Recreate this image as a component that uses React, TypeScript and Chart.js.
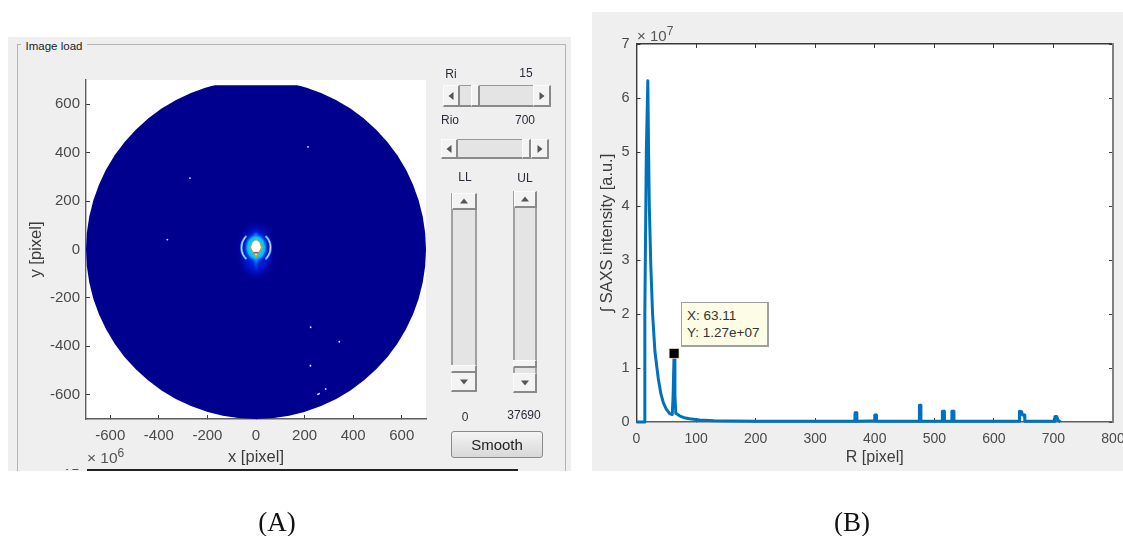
import React, { useEffect, useRef } from "react";
import { Chart, registerables } from "chart.js";

Chart.register(...registerables);

// ---- Panel A data ----
const imageTicksX = [-600, -400, -200, 0, 200, 400, 600];
const imageTicksY = [-600, -400, -200, 0, 200, 400, 600];
const discRadius = 700;
const discTopCut = 678;
const speckX = [214, -272, -365, 225, 343, 224, 287, 260, 255];
const speckY = [424, 295, 41, -321, -381, -480, -576, -595, -598];
const ringRadius = 60;
const ringCentreY = 8;
const diamondX = [0, 25, 0, -25];
const diamondY = [43, 10, -31, 10];

// ---- Panel B data ----
const profileTicksX = [0, 100, 200, 300, 400, 500, 600, 700, 800];
const profileTicksY = [0, 1, 2, 3, 4, 5, 6, 7];
const saxsR = [0, 13, 14, 16.5, 19, 20.3, 21.5, 24, 27, 31, 36.6, 41, 45, 50, 56, 60, 61.5, 63.11, 64.5, 66, 73, 80, 89, 106, 130, 160, 200, 250, 300, 366.5, 367, 369.5, 370, 395, 399.5, 400, 402.5, 403, 474.5, 475, 477, 477.5, 513, 513.5, 516.5, 517, 529, 529.5, 532.5, 533, 642.5, 643, 646.5, 648, 651.5, 652, 701, 702.5, 705.5, 708, 712];
const saxsI = [0, 0, 2, 5, 6.32, 5, 4, 2.9, 2.0, 1.3, 0.8, 0.52, 0.36, 0.24, 0.15, 0.14, 0.5, 1.27, 0.5, 0.16, 0.11, 0.08, 0.06, 0.035, 0.025, 0.02, 0.015, 0.012, 0.012, 0.012, 0.17, 0.17, 0.012, 0.02, 0.02, 0.13, 0.13, 0.012, 0.012, 0.31, 0.31, 0.012, 0.012, 0.2, 0.2, 0.012, 0.012, 0.2, 0.2, 0.012, 0.012, 0.2, 0.19, 0.13, 0.13, 0.012, 0.012, 0.1, 0.1, 0.03, 0];
const cursorR = [63.11];
const cursorI = [1.27];
const cursorTextX = "X: 63.11";
const cursorTextY = "Y: 1.27e+07";

const SANS = '"Liberation Sans", Arial, sans-serif';
const TICK = "#4a4a4a";
const AXIS = "#5f5f5f";

const imagePlugin = {
  id: "imagePlugin",
  beforeDraw(chart: any) {
    const { ctx, chartArea: a } = chart;
    ctx.save();
    ctx.fillStyle = "#ffffff";
    ctx.fillRect(a.left, a.top, a.width, a.height);
    ctx.restore();
  },
  beforeDatasetsDraw(chart: any) {
    const { ctx } = chart;
    const sx = chart.scales.x;
    const sy = chart.scales.y;
    const cx = sx.getPixelForValue(0);
    const cy = sy.getPixelForValue(0);
    const ux = Math.abs(sx.getPixelForValue(1) - cx);
    const uy = Math.abs(sy.getPixelForValue(1) - cy);
    const X = (v: number) => sx.getPixelForValue(v);
    const Y = (v: number) => sy.getPixelForValue(v);

    ctx.save();
    ctx.beginPath();
    ctx.rect(X(-discRadius), Y(discTopCut), X(discRadius) - X(-discRadius), Y(-discRadius) - Y(discTopCut));
    ctx.clip();
    ctx.fillStyle = "#00008f";
    ctx.beginPath();
    ctx.ellipse(cx, cy, discRadius * ux, discRadius * uy, 0, 0, Math.PI * 2);
    ctx.fill();
    ctx.restore();

    const glow = (vx: number, vy: number, rx: number, ry: number, stops: [number, string][]) => {
      ctx.save();
      ctx.translate(X(vx), Y(vy));
      ctx.scale(rx * ux, ry * uy);
      const g = ctx.createRadialGradient(0, 0, 0, 0, 0, 1);
      stops.forEach(([o, c]) => g.addColorStop(o, c));
      ctx.fillStyle = g;
      ctx.beginPath();
      ctx.arc(0, 0, 1, 0, Math.PI * 2);
      ctx.fill();
      ctx.restore();
    };

    glow(0, -5, 85, 130, [[0, "rgba(0,70,255,0.95)"], [0.6, "rgba(0,30,235,0.7)"], [1, "rgba(0,0,160,0)"]]);
    glow(0, -35, 16, 58, [[0, "rgba(0,190,255,0.9)"], [1, "rgba(0,60,255,0)"]]);
    glow(0, 62, 16, 16, [[0, "rgba(30,130,255,0.85)"], [1, "rgba(0,60,255,0)"]]);
    glow(0, 8, 50, 62, [[0, "rgba(0,255,230,1)"], [0.7, "rgba(0,200,255,0.95)"], [1, "rgba(0,70,255,0)"]]);

    // scattering ring segments
    [[-0.85, 0.85], [Math.PI - 0.85, Math.PI + 0.85]].forEach(([a0, a1]) => {
      ["#3f8fff", "#eef6ff"].forEach((col, i) => {
        ctx.save();
        ctx.strokeStyle = col;
        ctx.lineWidth = i === 0 ? 2.4 : 0.9;
        ctx.beginPath();
        ctx.ellipse(cx, Y(ringCentreY), ringRadius * ux, ringRadius * 1.05 * uy, 0, a0, a1);
        ctx.stroke();
        ctx.restore();
      });
    });

    // intensity core
    ctx.save();
    ctx.beginPath();
    diamondX.forEach((v, i) => {
      if (i === 0) ctx.moveTo(X(v), Y(diamondY[i]));
      else ctx.lineTo(X(v), Y(diamondY[i]));
    });
    ctx.closePath();
    ctx.fillStyle = "#fff27a";
    ctx.fill();
    ctx.strokeStyle = "#f58a1c";
    ctx.lineWidth = 1.3;
    ctx.stroke();
    ctx.restore();
    ctx.save();
    ctx.fillStyle = "#ffffff";
    ctx.beginPath();
    ctx.ellipse(cx, Y(12), 18 * ux, 25 * uy, 0, 0, Math.PI * 2);
    ctx.fill();
    ctx.fillStyle = "#5a6ad0";
    ctx.beginPath();
    ctx.ellipse(cx, Y(-13), 12 * ux, 3.5 * uy, 0, 0, Math.PI * 2);
    ctx.fill();
    ctx.restore();
  },
};

const profilePlugin = {
  id: "profilePlugin",
  beforeDraw(chart: any) {
    const { ctx, chartArea: a } = chart;
    ctx.save();
    ctx.fillStyle = "#ffffff";
    ctx.fillRect(a.left, a.top, a.width, a.height);
    ctx.restore();
  },
};

const fixedSize = (prop: "width" | "height", size: number) => (s: any) => {
  s[prop] = size;
};
const useTicks = (values: number[]) => (s: any) => {
  s.ticks = values.map((value) => ({ value }));
};

const axisBase = (color: string, width = 1.4) => ({
  border: { color, width },
  grid: { drawOnChartArea: false, drawTicks: true, tickLength: -4, color: "#3a3a3a", lineWidth: 1 },
});

function ImageChart() {
  const ref = useRef<HTMLCanvasElement | null>(null);
  useEffect(() => {
    const chart = new Chart(ref.current as HTMLCanvasElement, {
      type: "scatter",
      data: {
        datasets: [
          {
            data: speckX.map((x, i) => ({ x, y: speckY[i] })),
            pointRadius: 0.9,
            pointBackgroundColor: "#e8e8ff",
            pointBorderWidth: 0,
          },
        ],
      },
      options: {
        animation: false,
        responsive: false,
        events: [],
        layout: { padding: { top: 43, left: 0, right: 145, bottom: 0 } },
        plugins: { legend: { display: false }, tooltip: { enabled: false } },
        scales: {
          x: {
            type: "linear",
            min: -700,
            max: 700,
            ...axisBase(AXIS),
            afterBuildTicks: useTicks(imageTicksX),
            afterFit: fixedSize("height", 52),
            ticks: { padding: 12, maxRotation: 0, autoSkip: false, color: TICK, font: { family: SANS, size: 15 } },
            title: { display: true, text: "x [pixel]", color: "#3c3c3c", font: { family: SANS, size: 16.5 }, padding: { top: 0, bottom: 4 } },
          },
          y: {
            type: "linear",
            min: -700,
            max: 700,
            ...axisBase(AXIS),
            afterBuildTicks: useTicks(imageTicksY),
            afterFit: fixedSize("width", 78),
            ticks: { padding: 10, autoSkip: false, color: TICK, font: { family: SANS, size: 15 } },
            title: { display: true, text: "y [pixel]", color: "#3c3c3c", font: { family: SANS, size: 16.5 }, padding: { top: 19, bottom: 0 } },
          },
        },
      } as any,
      plugins: [imagePlugin],
    });
    return () => chart.destroy();
  }, []);
  return <canvas ref={ref} width={563} height={434} style={{ position: "absolute", left: 8, top: 37, width: 563, height: 434 }} />;
}

function ProfileChart() {
  const ref = useRef<HTMLCanvasElement | null>(null);
  useEffect(() => {
    const chart = new Chart(ref.current as HTMLCanvasElement, {
      type: "scatter",
      data: {
        datasets: [
          {
            data: cursorR.map((x, i) => ({ x, y: cursorI[i] })),
            pointStyle: "rect",
            pointRadius: 7,
            pointBackgroundColor: "#000000",
            pointBorderColor: "#f3ecc0",
            pointBorderWidth: 0.7,
            order: 0,
          },
          {
            data: saxsR.map((x, i) => ({ x, y: saxsI[i] })),
            showLine: true,
            tension: 0,
            borderColor: "#0072BD",
            borderWidth: 3,
            pointRadius: 0,
            clip: false,
            borderJoinStyle: "round",
            order: 1,
          },
        ],
      },
      options: {
        animation: false,
        responsive: false,
        events: [],
        layout: { padding: { top: 32, left: 0, right: 39, bottom: 0 } },
        plugins: { legend: { display: false }, tooltip: { enabled: false } },
        scales: {
          x: {
            type: "linear",
            min: 0,
            max: 800,
            ...axisBase(AXIS),
            afterBuildTicks: useTicks(profileTicksX),
            afterFit: fixedSize("height", 49),
            ticks: { padding: 13, maxRotation: 0, autoSkip: false, color: TICK, font: { family: SANS, size: 14 } },
            title: { display: true, text: "R [pixel]", color: "#3c3c3c", font: { family: SANS, size: 16 }, padding: { top: 0, bottom: 4 } },
          },
          y: {
            type: "linear",
            min: 0,
            max: 7,
            ...axisBase("#3a3a3a"),
            afterBuildTicks: useTicks(profileTicksY),
            afterFit: fixedSize("width", 44.5),
            ticks: { padding: 11, autoSkip: false, color: TICK, font: { family: SANS, size: 14.5 } },
            title: { display: true, text: "\u222B SAXS intensity [a.u.]", color: "#3c3c3c", font: { family: SANS, size: 16.4 }, padding: { top: 6, bottom: 0 } },
          },
          xTop: {
            type: "linear",
            position: "top",
            min: 0,
            max: 800,
            ...axisBase("#3a3a3a"),
            afterBuildTicks: useTicks(profileTicksX),
            afterFit: fixedSize("height", 0),
            ticks: { display: false },
          },
          yRight: {
            type: "linear",
            position: "right",
            min: 0,
            max: 7,
            ...axisBase("#808080", 2),
            afterBuildTicks: useTicks(profileTicksY),
            afterFit: fixedSize("width", 0),
            ticks: { display: false },
          },
        },
      } as any,
      plugins: [profilePlugin],
    });
    return () => chart.destroy();
  }, []);
  return <canvas ref={ref} width={560} height={459} style={{ position: "absolute", left: 592, top: 12, width: 560, height: 459 }} />;
}

const abs = (left: number, top: number, width: number, height: number, extra: React.CSSProperties = {}): React.CSSProperties => ({
  position: "absolute",
  left,
  top,
  width,
  height,
  boxSizing: "border-box",
  ...extra,
});

const label = (text: string, cx: number, cy: number, size = 12) => (
  <div
    key={text + cx}
    style={{
      position: "absolute",
      left: cx - 40,
      top: cy - 10,
      width: 80,
      height: 20,
      lineHeight: "20px",
      textAlign: "center",
      fontFamily: SANS,
      fontSize: size,
      color: "#2b2b3a",
    }}
  >
    {text}
  </div>
);

const raised: React.CSSProperties = {
  background: "#f3f3f3",
  borderTop: "1px solid #fbfbfb",
  borderLeft: "1px solid #fbfbfb",
  borderRight: "2px solid #8a8a8a",
  borderBottom: "2px solid #8a8a8a",
};
const trough: React.CSSProperties = { background: "#e4e4e4" };

const tri = (dir: "l" | "r" | "u" | "d"): React.CSSProperties => {
  const s = 4;
  const c = "#555555";
  const clear = `${s}px solid transparent`;
  const solid = `${s + 1}px solid ${c}`;
  const base: React.CSSProperties = { position: "absolute", left: "50%", top: "50%", width: 0, height: 0, transform: "translate(-50%,-50%)" };
  if (dir === "l") return { ...base, borderTop: clear, borderBottom: clear, borderRight: solid };
  if (dir === "r") return { ...base, borderTop: clear, borderBottom: clear, borderLeft: solid };
  if (dir === "u") return { ...base, borderLeft: clear, borderRight: clear, borderBottom: solid };
  return { ...base, borderLeft: clear, borderRight: clear, borderTop: solid };
};

const Btn = ({ l, t, w, h, d }: { l: number; t: number; w: number; h: number; d: "l" | "r" | "u" | "d" }) => (
  <div style={abs(l, t, w, h, raised)}>
    <div style={tri(d)} />
  </div>
);

const HSlider = ({ l, t, w, h, thumb }: { l: number; t: number; w: number; h: number; thumb: number }) => (
  <>
    <div style={abs(l, t, w, h, { ...trough, borderBottom: "2px solid #8a8a8a", borderTop: "1px solid #9a9a9a" })} />
    <Btn l={l} t={t} w={17} h={h} d="l" />
    <Btn l={l + w - 18} t={t} w={18} h={h} d="r" />
    <div style={abs(thumb, t, 9, h, raised)} />
  </>
);

const VSlider = ({ l, t, w, b, thumb }: { l: number; t: number; w: number; b: number; thumb: number }) => (
  <>
    <div style={abs(l, t, w, b - t, { ...trough, border: "2px solid #a0a0a0" })} />
    <Btn l={l + 1} t={t} w={w - 1} h={17} d="u" />
    <Btn l={l} t={b - 20} w={w} h={20} d="d" />
    <div style={abs(l, thumb, w, 8, raised)} />
  </>
);

export default function App() {
  useEffect(() => {
    document.body.style.margin = "0";
    document.body.style.background = "#ffffff";
  }, []);
  return (
    <div style={{ position: "absolute", left: 0, top: 0, width: 1123, height: 536, overflow: "hidden", background: "#ffffff" }}>
      <div style={{ position: "absolute", inset: 0, filter: "blur(0.6px)" }}>
        {/* Panel A background */}
        <div style={abs(8, 37, 563, 434, { background: "#efefef" })} />
        <div style={abs(17, 44, 549, 427, { borderTop: "1px solid #b4b4b4", borderLeft: "1px solid #b4b4b4", borderRight: "1px solid #b4b4b4" })} />
        <div style={{ ...abs(21, 39, 66, 14, { background: "#efefef", fontFamily: SANS, fontSize: 11.5, lineHeight: "14px", color: "#222", textAlign: "center" }) }}>Image load</div>
        <ImageChart />
        <div style={abs(87, 447, 60, 22, { fontFamily: SANS, fontSize: 15.5, color: "#555", lineHeight: "22px", whiteSpace: "nowrap" })}>
          {"\u00D7 10"}
          <sup style={{ fontSize: 12, lineHeight: 0 }}>6</sup>
        </div>
        <div style={abs(58, 465, 24, 5, { overflow: "hidden" })}>
          <div style={{ position: "absolute", left: 5, top: 0, fontFamily: SANS, fontSize: 15, lineHeight: "17px", color: "#555" }}>15</div>
        </div>
        <div style={abs(87, 469, 431, 2, { background: "#222" })} />

        {/* Controls */}
        {label("Ri", 451, 74)}
        {label("15", 526, 73)}
        <HSlider l={443} t={85} w={108} h={22} thumb={471} />
        {label("Rio", 450, 120)}
        {label("700", 525, 120)}
        <HSlider l={441} t={139} w={108} h={20} thumb={522} />
        {label("LL", 465, 177)}
        {label("UL", 525, 178)}
        <VSlider l={451} t={193} w={26} b={392} thumb={365} />
        <VSlider l={513} t={191} w={24} b={393} thumb={360} />
        {label("0", 465, 417)}
        {label("37690", 524, 415)}
        <div
          style={abs(451, 431, 92, 27, {
            border: "1px solid #8a8a8a",
            borderRadius: 3,
            background: "linear-gradient(#f4f4f4, #d8d8d8)",
            fontFamily: SANS,
            fontSize: 15,
            lineHeight: "25px",
            textAlign: "center",
            color: "#222",
          })}
        >
          Smooth
        </div>

        {/* Panel B */}
        <div style={abs(592, 12, 531, 459, { background: "#efefef" })} />
        <ProfileChart />
        <div style={abs(637, 26, 60, 20, { fontFamily: SANS, fontSize: 15, color: "#555", lineHeight: "20px", whiteSpace: "nowrap" })}>
          {"\u00D7 10"}
          <sup style={{ fontSize: 12, lineHeight: 0 }}>7</sup>
        </div>
        <div
          style={abs(681, 302, 88, 45, {
            background: "#fdfde6",
            border: "1px solid #a0a0a0",
            borderRightWidth: 2,
            borderBottomWidth: 2,
            fontFamily: SANS,
            fontSize: 13.5,
            lineHeight: "17px",
            color: "#333",
            padding: "4px 0 0 5px",
            whiteSpace: "nowrap",
          })}
        >
          <div>{cursorTextX}</div>
          <div>{cursorTextY}</div>
        </div>
      </div>

      {/* Captions */}
      <div style={abs(237, 506, 80, 32, { fontFamily: '"Liberation Serif", serif', fontSize: 27, lineHeight: "32px", textAlign: "center", color: "#111" })}>(A)</div>
      <div style={abs(812, 506, 80, 32, { fontFamily: '"Liberation Serif", serif', fontSize: 27, lineHeight: "32px", textAlign: "center", color: "#111" })}>(B)</div>
    </div>
  );
}
